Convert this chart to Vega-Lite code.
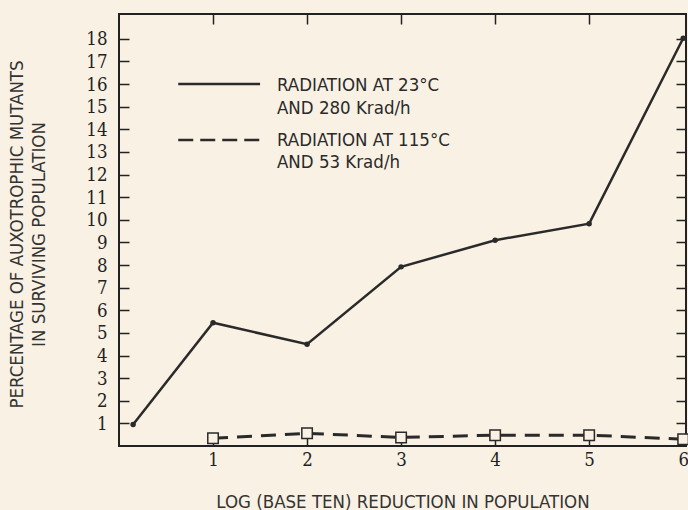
{
  "$schema": "https://vega.github.io/schema/vega-lite/v6.json",
  "width": 567,
  "height": 432,
  "autosize": {"type": "none"},
  "padding": {"left": 119, "top": 14, "right": 2, "bottom": 64},
  "background": "#f9f1e4",
  "config": {
    "view": {"stroke": "#222222", "strokeWidth": 2},
    "axis": {
      "domain": false,
      "grid": false,
      "tickColor": "#222222",
      "tickWidth": 1.5,
      "tickSize": -10,
      "labelFont": "DejaVu Serif Condensed",
      "labelFontSize": 18.5,
      "labelColor": "#222222",
      "labelFlush": false,
      "labelOverlap": false,
      "titleFont": "DejaVu Sans Condensed",
      "titleFontWeight": "normal",
      "titleFontSize": 18.5,
      "titleColor": "#333333"
    }
  },
  "datasets": {
    "solid": [
      {"x": 0.15, "y": 0.95},
      {"x": 1, "y": 5.45},
      {"x": 2, "y": 4.5},
      {"x": 3, "y": 7.92},
      {"x": 4, "y": 9.1},
      {"x": 5, "y": 9.83},
      {"x": 6, "y": 18.03}
    ],
    "dashed": [
      {"x": 1, "y": 0.34},
      {"x": 2, "y": 0.56},
      {"x": 3, "y": 0.38},
      {"x": 4, "y": 0.48},
      {"x": 5, "y": 0.48},
      {"x": 6, "y": 0.3}
    ],
    "keyLines": [
      {"series": "solid", "x": 0.63, "x2": 1.5, "y": 16.0},
      {"series": "dashed", "x": 0.63, "x2": 1.5, "y": 13.53}
    ],
    "keyText": [
      {"x": 1.68, "y": 15.96, "label": "RADIATION AT 23°C"},
      {"x": 1.68, "y": 14.94, "label": "AND 280 Krad/h"},
      {"x": 1.68, "y": 13.53, "label": "RADIATION AT 115°C"},
      {"x": 1.68, "y": 12.56, "label": "AND 53 Krad/h"}
    ]
  },
  "resolve": {"axis": {"x": "independent", "y": "independent"}},
  "layer": [
    {
      "data": {"name": "solid"},
      "mark": {"type": "line", "color": "#2a2a2a", "strokeWidth": 2.5},
      "encoding": {
        "x": {
          "field": "x", "type": "quantitative",
          "scale": {"domain": [0, 6.03], "nice": false, "zero": false},
          "axis": {
            "orient": "bottom",
            "values": [1, 2, 3, 4, 5, 6],
            "labelPadding": 14,
            "title": "LOG (BASE TEN) REDUCTION IN POPULATION",
            "titleY": 55,
            "titleBaseline": "middle",
            "titleFontSize": 18.5
          }
        },
        "y": {
          "field": "y", "type": "quantitative",
          "scale": {"domain": [0, 19.1], "nice": false, "zero": false},
          "axis": {
            "orient": "left",
            "values": [1, 2, 3, 4, 5, 6, 7, 8, 9, 10, 11, 12, 13, 14, 15, 16, 17, 18],
            "labelPadding": 22,
            "title": ["PERCENTAGE OF AUXOTROPHIC MUTANTS", "IN SURVIVING POPULATION"],
            "titleX": -112,
            "titleY": 220,
            "titleAngle": -90,
            "titleAlign": "center",
            "titleBaseline": "top",
            "titleLineHeight": 22
          }
        }
      }
    },
    {
      "data": {"name": "solid"},
      "mark": {"type": "point", "shape": "circle", "filled": true, "color": "#2a2a2a", "size": 30, "opacity": 1},
      "encoding": {
        "x": {"field": "x", "type": "quantitative", "scale": {"domain": [0, 6.03], "nice": false, "zero": false}, "axis": null},
        "y": {"field": "y", "type": "quantitative", "scale": {"domain": [0, 19.1], "nice": false, "zero": false}, "axis": null}
      }
    },
    {
      "data": {"name": "dashed"},
      "mark": {"type": "line", "color": "#2a2a2a", "strokeWidth": 3, "strokeDash": [15, 9]},
      "encoding": {
        "x": {
          "field": "x", "type": "quantitative",
          "scale": {"domain": [0, 6.03], "nice": false, "zero": false},
          "axis": {"orient": "top", "values": [1, 2, 3, 4, 5], "labels": false, "title": null}
        },
        "y": {
          "field": "y", "type": "quantitative",
          "scale": {"domain": [0, 19.1], "nice": false, "zero": false},
          "axis": {"orient": "right", "values": [1, 2, 3, 4, 5, 6, 7, 8, 9, 10, 11, 12, 13, 14, 15, 16, 17, 18], "labels": false, "title": null}
        }
      }
    },
    {
      "data": {"name": "dashed"},
      "mark": {"type": "point", "shape": "square", "filled": true, "fill": "#f9f1e4", "stroke": "#2a2a2a", "strokeWidth": 1.5, "size": 110, "opacity": 1},
      "encoding": {
        "x": {"field": "x", "type": "quantitative", "scale": {"domain": [0, 6.03], "nice": false, "zero": false}, "axis": null},
        "y": {"field": "y", "type": "quantitative", "scale": {"domain": [0, 19.1], "nice": false, "zero": false}, "axis": null}
      }
    },
    {
      "data": {"name": "keyLines"},
      "transform": [{"filter": "datum.series === 'solid'"}],
      "mark": {"type": "rule", "color": "#2a2a2a", "strokeWidth": 2.5},
      "encoding": {
        "x": {"field": "x", "type": "quantitative", "scale": {"domain": [0, 6.03], "nice": false, "zero": false}, "axis": null},
        "x2": {"field": "x2"},
        "y": {"field": "y", "type": "quantitative", "scale": {"domain": [0, 19.1], "nice": false, "zero": false}, "axis": null}
      }
    },
    {
      "data": {"name": "keyLines"},
      "transform": [{"filter": "datum.series === 'dashed'"}],
      "mark": {"type": "rule", "color": "#2a2a2a", "strokeWidth": 2.5, "strokeDash": [15, 7]},
      "encoding": {
        "x": {"field": "x", "type": "quantitative", "scale": {"domain": [0, 6.03], "nice": false, "zero": false}, "axis": null},
        "x2": {"field": "x2"},
        "y": {"field": "y", "type": "quantitative", "scale": {"domain": [0, 19.1], "nice": false, "zero": false}, "axis": null}
      }
    },
    {
      "data": {"name": "keyText"},
      "mark": {"type": "text", "align": "left", "baseline": "middle", "font": "DejaVu Sans Condensed", "fontSize": 18.5, "color": "#2a2a2a"},
      "encoding": {
        "x": {"field": "x", "type": "quantitative", "scale": {"domain": [0, 6.03], "nice": false, "zero": false}, "axis": null},
        "y": {"field": "y", "type": "quantitative", "scale": {"domain": [0, 19.1], "nice": false, "zero": false}, "axis": null},
        "text": {"field": "label"}
      }
    }
  ]
}
